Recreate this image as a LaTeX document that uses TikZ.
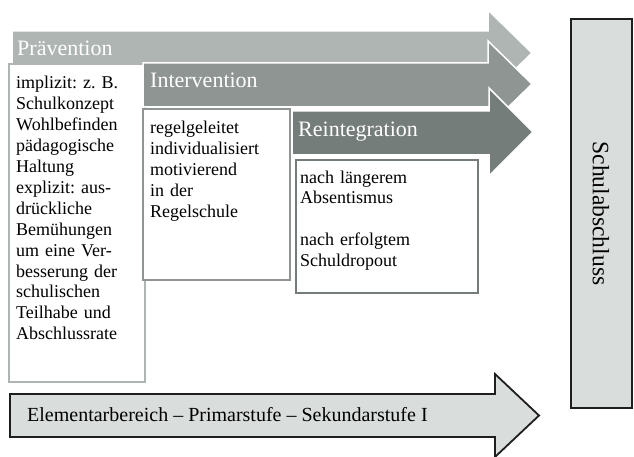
\documentclass[tikz,border=0pt]{standalone}
\usepackage{fontspec}
\setmainfont{Liberation Serif}
\frenchspacing
\definecolor{ga}{HTML}{AEB5B2}
\definecolor{gb}{HTML}{8E9592}
\definecolor{gc}{HTML}{757D7A}
\definecolor{gl}{HTML}{D9DDDB}
\definecolor{dk}{HTML}{1E1E1E}
\tikzset{
  band/.style={draw=white, line width=1.5pt},
  headtxt/.style={anchor=base west, inner sep=0pt, text=white, font=\fontsize{22}{24}\selectfont},
  bodytxt/.style={anchor=base west, inner sep=0pt, align=left, font=\fontsize{18}{20.9}\selectfont\frenchspacing},
  stagebox/.style={fill=white, line width=1.5pt},
}
\begin{document}
\begin{tikzpicture}[x=1pt,y=-1pt]
\useasboundingbox (0,0) rectangle (634,457);
% Prävention
\fill[ga, band] (12,31) -- (488,31) -- (488,10) -- (532,53) -- (488,96) -- (488,75) -- (12,75) -- cycle;
\node[headtxt] (prae) at (17,56) {Prävention};
\draw[stagebox, draw=ga] (9,64) rectangle (145,382);
\node[bodytxt, text width=125pt] (praetext) at (16,89) {implizit: z. B.\\Schulkonzept\\Wohlbefinden\\pädagogische\\Haltung\\explizit: aus-\\drückliche\\Bemühungen\\um eine Ver-\\besserung der\\schulischen\\Teilhabe und\\Abschlussrate};
% Intervention
\fill[gb, band] (143,63) -- (488,63) -- (488,41) -- (532,84) -- (488,127) -- (488,107) -- (143,107) -- cycle;
\node[headtxt] (inter) at (150,88) {Intervention};
\draw[stagebox, draw=gb] (143,109) rectangle (290,280);
\node[bodytxt, text width=135pt] (intertext) at (150,134) {regelgeleitet\\individualisiert\\motivierend\\in der\\Regelschule};
% Reintegration
\fill[gc, band] (292,111) -- (489,111) -- (489,88) -- (533,132) -- (489,176) -- (489,155) -- (292,155) -- cycle;
\node[headtxt] (reint) at (298,136.5) {Reintegration};
\draw[stagebox, draw=gc] (296,160) rectangle (478,293);
\node[bodytxt, text width=170pt] (reinttext) at (300,183) {nach längerem\\Absentismus\\[20.9pt]nach erfolgtem\\Schuldropout};
% Bottom arrow
\draw[fill=gl, draw=dk, line width=1.8pt, line join=miter] (10,394) -- (495,394) -- (495,374) -- (539,415.5) -- (495,457) -- (495,437) -- (10,437) -- cycle;
\node[anchor=base west, inner sep=0pt, font=\fontsize{20}{22}\selectfont] (stufen) at (27,421.5) {Elementarbereich – Primarstufe – Sekundarstufe I};
% Schulabschluss
\draw[fill=gl, draw=dk, line width=1.8pt] (571,19) rectangle (632,408);
\node[rotate=-90, inner sep=0pt, font=\fontsize{23.5}{25}\selectfont] (abschluss) at (601,213.5) {Schulabschluss};
\end{tikzpicture}
\end{document}
